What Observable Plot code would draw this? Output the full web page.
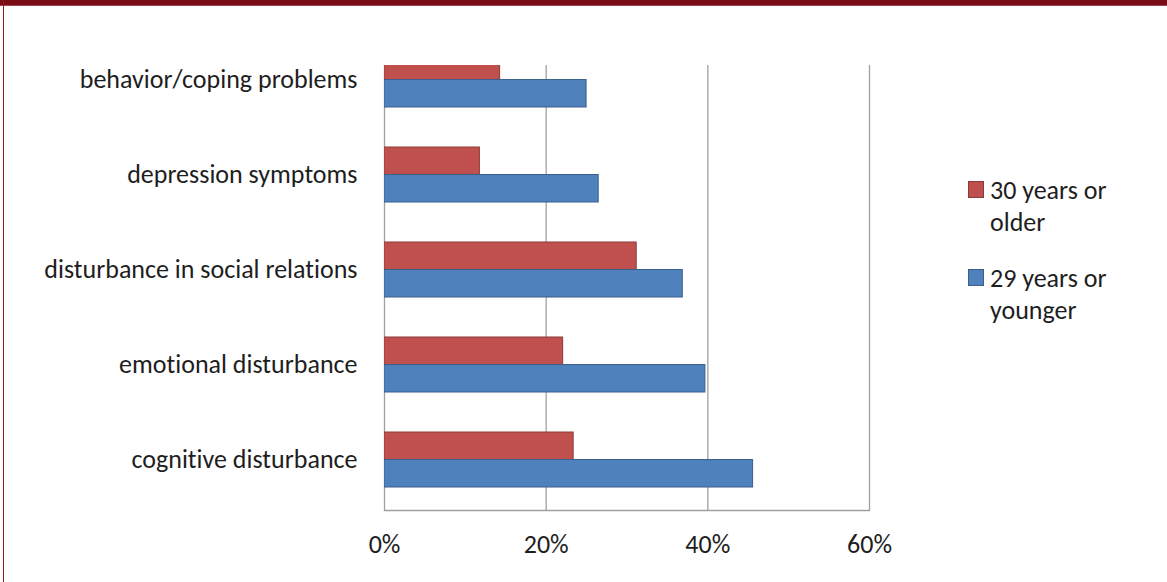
<!DOCTYPE html>
<html>
<head>
<meta charset="utf-8">
<script src="https://cdn.jsdelivr.net/npm/d3@7"></script>
<script src="https://cdn.jsdelivr.net/npm/@observablehq/plot@0.6"></script>
<style>
  html, body { margin: 0; padding: 0; background: #fff; }
  #page { position: relative; width: 1167px; height: 582px; overflow: hidden; background: #fff;
          font-family: Carlito, Lato, "Open Sans", sans-serif; color: #1e1e1e;
          font-variant-ligatures: none; }
  #page svg text { font-variant-ligatures: none; }
  #band { position: absolute; left: 0; top: 0; width: 100%; height: 5px; background: #780c16;
          border-bottom: 1px solid #a3454c; }
  #edge { position: absolute; left: 3px; top: 0; width: 1px; height: 100%; background: #8a1c24; }
  #chart { position: absolute; left: 0; top: 0; }
  #legend { position: absolute; left: 968px; top: 174px; font-size: 26px; line-height: 32px; }
  .item { position: relative; padding-left: 22px; margin-bottom: 24px; white-space: nowrap; }
  .swatch { position: absolute; left: 0; top: 7px; width: 14px; height: 15px; }
</style>
</head>
<body>
<div id="page">
  <div id="chart"></div>
  <div id="legend"></div>
  <div id="band"></div>
  <div id="edge"></div>
</div>
<script>
// Problem categories, listed top to bottom
const categories = [
  "behavior/coping problems",
  "depression symptoms",
  "disturbance in social relations",
  "emotional disturbance",
  "cognitive disturbance"
];
// Share of each age group reporting the problem
const older = [0.143, 0.118, 0.312, 0.221, 0.234];    // 30 years or older
const younger = [0.250, 0.265, 0.369, 0.397, 0.456];  // 29 years or younger
const seriesNames = ["30 years or older", "29 years or younger"];
const xTicks = [0, 0.2, 0.4, 0.6];

const colors = { fill: ["#c0504d", "#4f81bd"], stroke: ["#8c3a38", "#3a5f8c"] };

const rowsOlder = categories.map((c, i) => ({ category: c, value: older[i] }));
const rowsYounger = categories.map((c, i) => ({ category: c, value: younger[i] }));

// band layout: the two bars of a category share its band, each taking half
const yRange = [29.8, 508.5];
const padInner = 0.425;
const step = (yRange[1] - yRange[0]) / categories.length;
const half = step * (1 - padInner) / 2;

const font = "Carlito, Lato, 'Open Sans', sans-serif";

const chart = Plot.plot({
  width: 1167,
  height: 582,
  marginLeft: 384,
  marginRight: 298,
  marginTop: 65,
  marginBottom: 72,
  style: { fontFamily: font, fontSize: "26px", color: "#1e1e1e", background: "transparent" },
  x: { domain: [0, 0.6], ticks: xTicks, tickFormat: d3.format(".0%") },
  y: { domain: categories, range: yRange, paddingInner: padInner, paddingOuter: padInner / 2 },
  marks: [
    Plot.ruleX(xTicks, { stroke: "#a0a0a0", strokeWidth: 1.3 }),
    Plot.frame({ anchor: "bottom", stroke: "#a0a0a0", strokeWidth: 1.3 }),
    Plot.barX(rowsOlder, {
      x: "value", y: "category", insetBottom: half,
      fill: colors.fill[0], stroke: colors.stroke[0], strokeWidth: 1, clip: "frame"
    }),
    Plot.barX(rowsYounger, {
      x: "value", y: "category", insetTop: half,
      fill: colors.fill[1], stroke: colors.stroke[1], strokeWidth: 1, clip: "frame"
    }),
    Plot.axisY({ tickSize: 0, tickPadding: 27, fontSize: 26, label: null }),
    Plot.axisX({ ticks: xTicks, tickFormat: d3.format(".0%"), tickSize: 0, tickPadding: 24, fontSize: 26, label: null })
  ]
});
document.getElementById("chart").appendChild(chart);

// legend: one swatch per age group, text wrapped over two lines
const legend = d3.select("#legend");
const legendLines = [["30 years or", "older"], ["29 years or", "younger"]];
seriesNames.forEach((name, i) => {
  const item = legend.append("div").attr("class", "item").attr("title", name);
  item.append("div").attr("class", "swatch")
    .style("background", colors.fill[i])
    .style("border", `1px solid ${colors.stroke[i]}`);
  item.append("div").html(legendLines[i].join("<br>"));
});
</script>
</body>
</html>
